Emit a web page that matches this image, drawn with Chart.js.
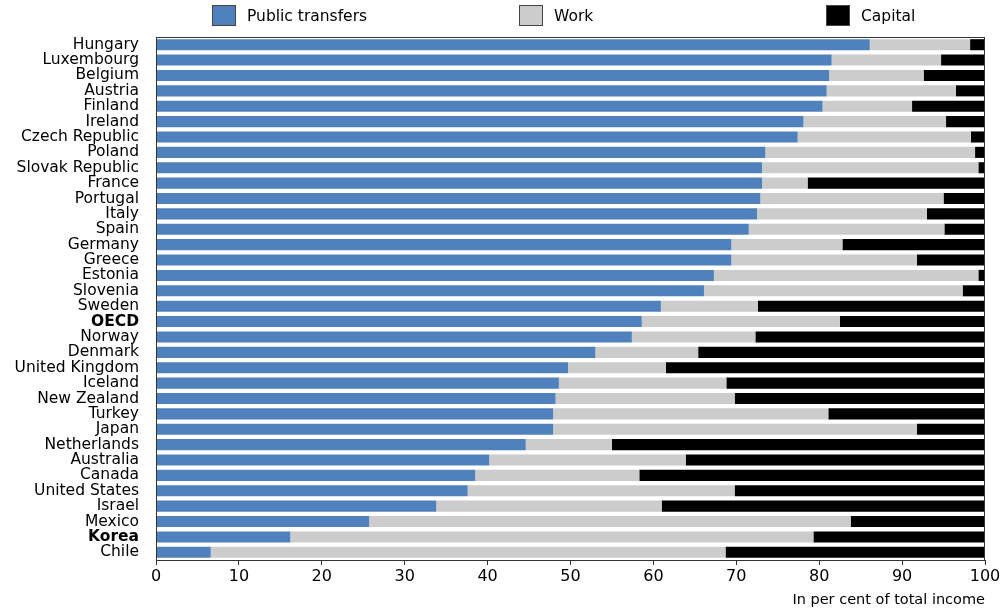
<!DOCTYPE html>
<html>
<head>
<meta charset="utf-8">
<script src="https://cdn.jsdelivr.net/npm/chart.js@4"></script>
<style>
  body { margin: 0; background: #fff; font-family: "DejaVu Sans", sans-serif; }
  #wrap { position: relative; width: 1005px; height: 609px; }
  .leg { position: absolute; top: 5px; display: flex; align-items: center; font-size: 15.5px; color: #000; }
  .leg span.box { display: inline-block; width: 24px; height: 21px; border: 1px solid #444; margin-right: 11px; box-sizing: border-box; }
</style>
</head>
<body>
<div id="wrap">
  <canvas id="chart"></canvas>
  <div id="legend"></div>
</div>
<script>
// Kategori (urut dari atas)
const countries = ['Hungary', 'Luxembourg', 'Belgium', 'Austria', 'Finland', 'Ireland', 'Czech Republic',
  'Poland', 'Slovak Republic', 'France', 'Portugal', 'Italy', 'Spain', 'Germany', 'Greece', 'Estonia',
  'Slovenia', 'Sweden', 'OECD', 'Norway', 'Denmark', 'United Kingdom', 'Iceland', 'New Zealand',
  'Turkey', 'Japan', 'Netherlands', 'Australia', 'Canada', 'United States', 'Israel', 'Mexico',
  'Korea', 'Chile'];

// Persentase dari total pendapatan
const publicTransfers = [86.1, 81.5, 81.2, 80.9, 80.4, 78.1, 77.4, 73.5, 73.1, 73.1, 72.9, 72.5, 71.5,
  69.4, 69.4, 67.3, 66.1, 60.9, 58.6, 57.4, 53.0, 49.7, 48.6, 48.2, 47.9, 47.9, 44.6, 40.2, 38.5,
  37.6, 33.8, 25.7, 16.2, 6.6];
const work = [12.1, 13.2, 11.4, 15.6, 10.8, 17.2, 20.9, 25.3, 26.1, 5.5, 22.1, 20.5, 23.6, 13.4, 22.4,
  31.9, 31.2, 11.7, 23.9, 14.9, 12.4, 11.8, 20.2, 21.6, 33.2, 43.9, 10.4, 23.7, 19.8, 32.2, 27.2,
  58.1, 63.1, 62.1];
const capital = [1.8, 5.3, 7.4, 3.5, 8.8, 4.7, 1.7, 1.2, 0.8, 21.4, 5.0, 7.0, 4.9, 17.2, 8.2, 0.8, 2.7,
  27.4, 17.5, 27.7, 34.6, 38.5, 31.2, 30.2, 18.9, 8.2, 45.0, 36.1, 41.7, 30.2, 39.0, 16.2, 20.7, 31.3];

const xTicks = [0, 10, 20, 30, 40, 50, 60, 70, 80, 90, 100];
const boldLabels = ['OECD', 'Korea'];

const seriesNames = ['Public transfers', 'Work', 'Capital'];
const seriesColors = ['#4f81bd', '#cccccc', '#000000'];
const legendX = [212, 519, 826];

// Legenda HTML
const legendEl = document.getElementById('legend');
seriesNames.forEach((name, i) => {
  const d = document.createElement('div');
  d.className = 'leg';
  d.style.left = legendX[i] + 'px';
  d.innerHTML = '<span class="box" style="background:' + seriesColors[i] + '"></span>' + name;
  legendEl.appendChild(d);
});

// Bingkai area plot
const frame = {
  id: 'frame',
  afterDatasetsDraw(chart) {
    const a = chart.chartArea;
    const c = chart.ctx;
    c.save();
    c.strokeStyle = '#333';
    c.lineWidth = 1;
    c.strokeRect(a.left + 0.5, a.top + 0.5, a.right - a.left - 1, a.bottom - a.top);
    c.restore();
  }
};

const allData = [publicTransfers, work, capital];
const fontFam = 'DejaVu Sans, sans-serif';

new Chart(document.getElementById('chart'), {
  type: 'bar',
  data: {
    labels: countries,
    datasets: seriesNames.map((name, i) => ({
      label: name,
      data: allData[i],
      backgroundColor: seriesColors[i],
      borderWidth: 0,
      barPercentage: 0.72,
      categoryPercentage: 1
    }))
  },
  options: {
    indexAxis: 'y',
    responsive: true,
    maintainAspectRatio: false,
    animation: false,
    layout: { padding: { top: 37, right: 20, left: 0, bottom: 0 } },
    plugins: {
      legend: { display: false },
      tooltip: { enabled: false }
    },
    scales: {
      x: {
        stacked: true,
        min: 0,
        max: 100,
        afterBuildTicks: (scale) => { scale.ticks = xTicks.map(v => ({ value: v })); },
        ticks: {
          color: '#000',
          font: { family: fontFam, size: 16 },
          padding: 2,
          maxRotation: 0
        },
        grid: { drawOnChartArea: false, tickLength: 5, color: '#333' },
        border: { color: '#333' },
        title: {
          display: true,
          align: 'end',
          text: 'In per cent of total income',
          color: '#000',
          font: { family: fontFam, size: 14.5 },
          padding: { top: 2, bottom: 0 }
        },
        afterFit: (scale) => { scale.height = 49; }
      },
      y: {
        stacked: true,
        ticks: {
          color: '#000',
          autoSkip: false,
          padding: 17,
          font: (ctx) => ({
            family: fontFam,
            size: 15.5,
            weight: boldLabels.includes(countries[ctx.index]) ? 'bold' : 'normal'
          })
        },
        grid: { display: false, drawTicks: false },
        border: { color: '#000' },
        afterFit: (scale) => { scale.width = 156; }
      }
    }
  },
  plugins: [frame]
});
</script>
</body>
</html>
